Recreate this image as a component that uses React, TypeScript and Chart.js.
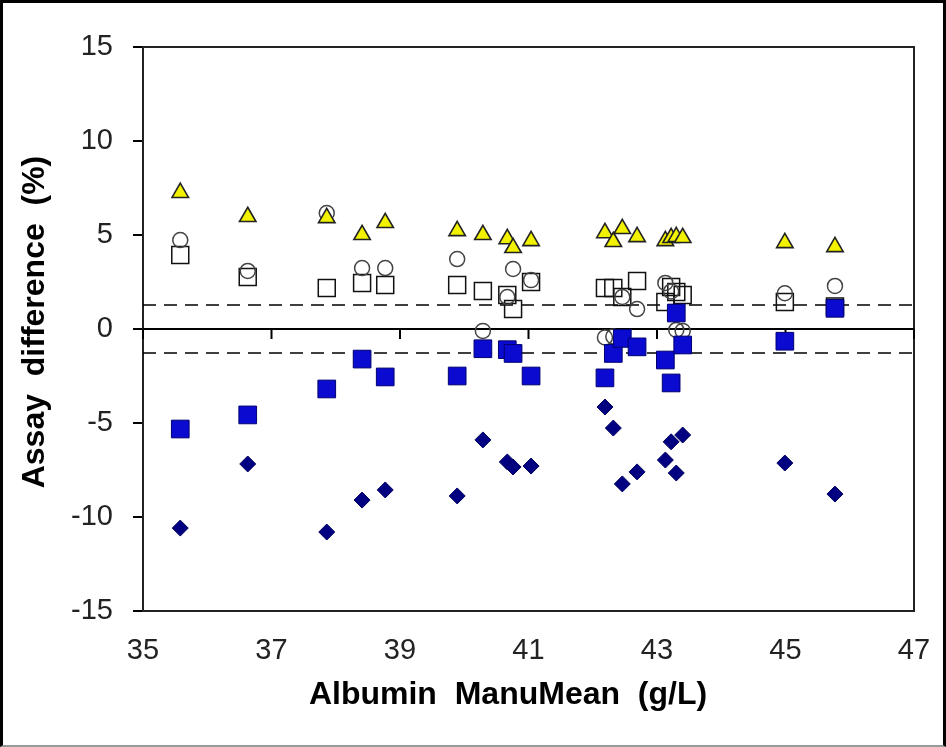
import React, { useEffect, useRef } from "react";
import { Chart, registerables } from "chart.js";

Chart.register(...registerables);

// Albumin ManuMean (g/L) of each sample
const sampleMeans = [35.58, 36.63, 37.86, 38.41, 38.77, 39.89, 40.29, 40.67, 40.76, 41.04, 42.19, 42.32, 42.46, 42.69, 43.13, 43.22, 43.3, 43.4, 44.99, 45.77];
// Assay differences (%) per method
const triangleDiffs = [7.25, 5.97, 5.91, 5.01, 5.65, 5.22, 5.01, 4.79, 4.32, 4.69, 5.11, 4.64, 5.33, 4.9, 4.69, 4.85, 4.9, 4.85, 4.58, 4.37];
const circleDiffs = [4.73, 3.09, 6.17, 3.24, 3.24, 3.72, -0.1, 1.7, 3.19, 2.6, -0.45, -0.4, 1.7, 1.06, 2.45, 2.0, -0.05, -0.1, 1.9, 2.29];
const openSquareDiffs = [3.94, 2.77, 2.18, 2.45, 2.34, 2.34, 2.02, 1.81, 1.06, 2.5, 2.18, 2.18, 1.7, 2.55, 1.44, 2.23, 1.97, 1.81, 1.44, 1.2];
const blueSquareDiffs = [-5.32, -4.57, -3.19, -1.6, -2.55, -2.5, -1.05, -1.1, -1.3, -2.5, -2.6, -1.3, -0.5, -0.95, -1.65, -2.87, 0.85, -0.85, -0.65, 1.1];
const diamondDiffs = [-10.59, -7.18, -10.8, -9.1, -8.56, -8.88, -5.9, -7.07, -7.34, -7.29, -4.15, -5.27, -8.24, -7.6, -6.97, -6.0, -7.66, -5.64, -7.13, -8.78];

// Reference lines
const limitValue = 1.28;
const xRange = [35, 47];
const yRange = [-15, 15];
const xStep = 2;
const yStep = 5;

const xTitle = "Albumin  ManuMean  (g/L)";
const yTitle = "Assay  difference  (%)";

const FONT = "'Liberation Sans', Arial, sans-serif";

const toPoints = (ys: number[]) => ys.map((y, i) => ({ x: sampleMeans[i], y }));
const hLine = (y: number) => [
  { x: xRange[0], y },
  { x: xRange[1], y },
];

const decorPlugin = {
  id: "decor",
  beforeDatasetsDraw(chart: any) {
    const { ctx, chartArea: a, scales } = chart;
    ctx.save();
    ctx.strokeStyle = "#222";
    ctx.lineWidth = 2;
    ctx.strokeRect(a.left, a.top, a.right - a.left, a.bottom - a.top);
    const y0 = scales.y.getPixelForValue(0);
    ctx.strokeStyle = "#000";
    ctx.lineWidth = 2;
    scales.x.ticks.forEach((t: any) => {
      const x = scales.x.getPixelForValue(t.value);
      ctx.beginPath();
      ctx.moveTo(x, y0);
      ctx.lineTo(x, y0 + 10);
      ctx.stroke();
    });
    ctx.restore();
  },
  afterDraw(chart: any) {
    const { ctx } = chart;
    ctx.save();
    ctx.fillStyle = "#000";
    ctx.font = `bold 32px ${FONT}`;
    ctx.textAlign = "center";
    ctx.textBaseline = "middle";
    ctx.fillText(xTitle, 505, 692);
    ctx.translate(32, 319);
    ctx.rotate(-Math.PI / 2);
    ctx.fillText(yTitle, 0, 0);
    ctx.restore();
  },
};

export default function App() {
  const ref = useRef<HTMLCanvasElement | null>(null);

  useEffect(() => {
    if (!ref.current) return;
    const chart = new Chart(ref.current, {
      type: "scatter",
      data: {
        datasets: [
          {
            label: "Method E",
            data: toPoints(blueSquareDiffs),
            pointStyle: "rect",
            pointRadius: 12.5,
            backgroundColor: "#0a0ad0",
            borderColor: "#000070",
            borderWidth: 1,
            order: 1,
          },
          {
            label: "Method A",
            data: toPoints(triangleDiffs),
            pointStyle: "triangle",
            pointRadius: 9.5,
            backgroundColor: "#f2f200",
            borderColor: "#222",
            borderWidth: 1.6,
            order: 2,
          },
          {
            label: "Method B",
            data: toPoints(circleDiffs),
            pointStyle: "circle",
            pointRadius: 7.5,
            backgroundColor: "rgba(0,0,0,0)",
            borderColor: "#444",
            borderWidth: 1.5,
            order: 3,
          },
          {
            label: "Method C",
            data: toPoints(openSquareDiffs),
            pointStyle: "rect",
            pointRadius: 12,
            backgroundColor: "rgba(0,0,0,0)",
            borderColor: "#111",
            borderWidth: 1.5,
            order: 4,
          },
          {
            label: "Method D",
            data: toPoints(diamondDiffs),
            pointStyle: "rectRot",
            pointRadius: 8,
            backgroundColor: "#000080",
            borderColor: "#000060",
            borderWidth: 1,
            order: 5,
          },
          {
            type: "line",
            label: "Upper limit",
            data: hLine(limitValue),
            borderColor: "#000",
            borderWidth: 1.5,
            borderDash: [13, 8],
            pointRadius: 0,
            order: 6,
          },
          {
            type: "line",
            label: "Lower limit",
            data: hLine(-limitValue),
            borderColor: "#000",
            borderWidth: 1.5,
            borderDash: [13, 8],
            pointRadius: 0,
            order: 6,
          },
          {
            type: "line",
            label: "Zero",
            data: hLine(0),
            borderColor: "#000",
            borderWidth: 2,
            pointRadius: 0,
            order: 6,
          },
        ] as any,
      },
      options: {
        animation: false,
        responsive: false,
        devicePixelRatio: 1,
        layout: { padding: { top: 44, right: 29, left: 0, bottom: 0 } },
        plugins: { legend: { display: false }, tooltip: { enabled: false } },
        scales: {
          x: {
            type: "linear",
            min: xRange[0],
            max: xRange[1],
            ticks: {
              stepSize: xStep,
              color: "#222",
              font: { family: FONT, size: 29 },
              padding: 23,
              maxRotation: 0,
            },
            grid: { display: false, drawTicks: false },
            border: { display: false },
            afterFit: (s: any) => {
              s.height = 134;
              s.paddingRight = 0;
              s.paddingLeft = 0;
            },
          },
          y: {
            type: "linear",
            min: yRange[0],
            max: yRange[1],
            ticks: {
              stepSize: yStep,
              color: "#222",
              font: { family: FONT, size: 29 },
              padding: 20,
            },
            grid: {
              display: true,
              drawOnChartArea: false,
              drawTicks: true,
              tickLength: 10,
              color: "#000",
              lineWidth: 2,
            },
            border: { display: true, color: "#000", width: 2 },
            afterFit: (s: any) => {
              s.width = 140;
              s.paddingTop = 0;
              s.paddingBottom = 0;
            },
          },
        },
      },
      plugins: [decorPlugin],
    });
    return () => chart.destroy();
  }, []);

  return (
    <div
      style={{
        position: "absolute",
        left: 0,
        top: 0,
        width: 946,
        height: 747,
        boxSizing: "border-box",
        borderTop: "3px solid #000",
        borderLeft: "3px solid #000",
        borderRight: "3px solid #000",
        borderBottom: "2px solid #999",
        background: "#fff",
      }}
    >
      <canvas ref={ref} width={940} height={742} style={{ display: "block" }} />
    </div>
  );
}
